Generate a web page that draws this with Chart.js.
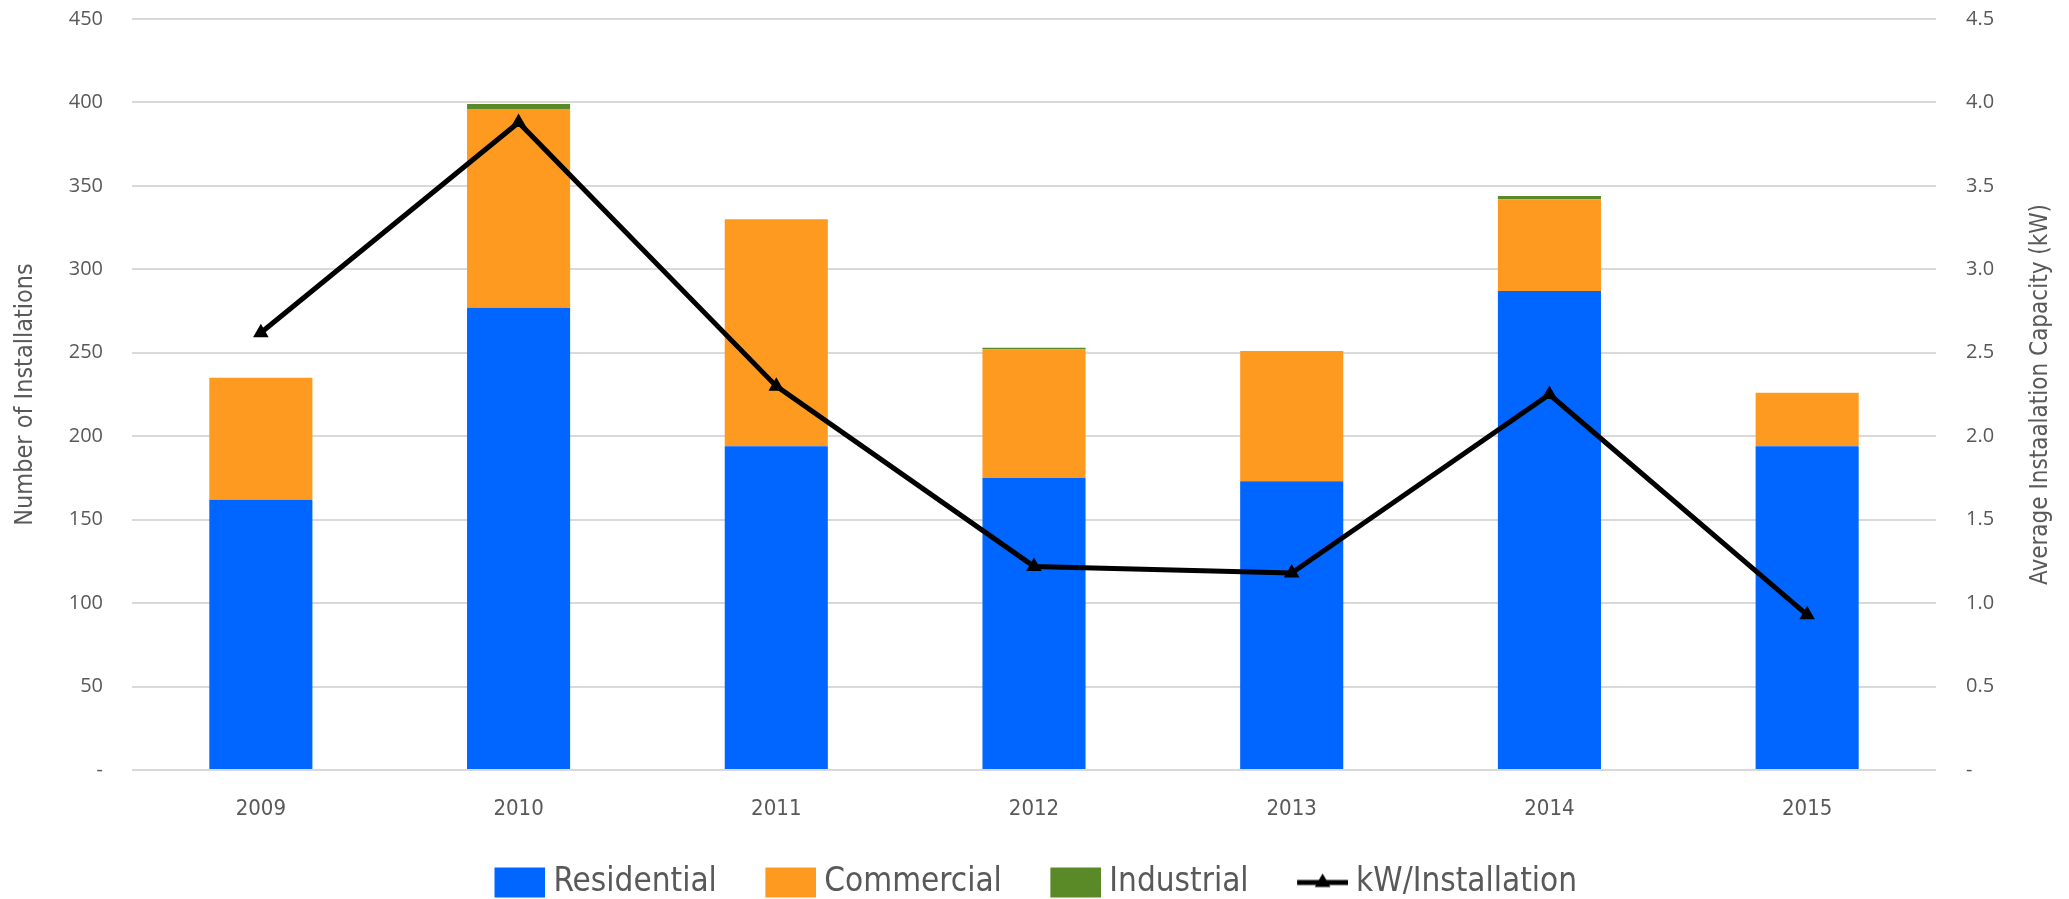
<!DOCTYPE html>
<html>
<head>
<meta charset="utf-8">
<script src="https://cdn.jsdelivr.net/npm/chart.js@4"></script>
<style>
  html, body { margin: 0; padding: 0; background: #ffffff; }
  canvas { display: block; }
</style>
</head>
<body>
<canvas id="chart" width="2069" height="899"></canvas>
<script>
// values
const years = ['2009', '2010', '2011', '2012', '2013', '2014', '2015'];
const residential = [162, 277, 194, 175, 173, 287, 194];
const commercial = [73, 119, 136, 77, 78, 55, 32];
const industrial = [0, 3, 0, 1, 0, 2, 0];
const kwPerInstall = [2.62, 3.88, 2.30, 1.22, 1.18, 2.25, 0.93];

const leftTitle = 'Number of Installations';
const rightTitle = 'Average Instaalation Capacity (kW)';

const textColor = '#595959';
const narrow = '"DejaVu Sans Condensed", "Liberation Sans Narrow", sans-serif';

// legend keys: box/line drawn right-aligned inside a wider image
function legendKey(color, isLine) {
    const c = document.createElement('canvas');
    c.width = 98;
    c.height = 40;
    const g = c.getContext('2d');
    if (isLine) {
        g.strokeStyle = '#000';
        g.lineWidth = 5;
        g.beginPath();
        g.moveTo(47, 20);
        g.lineTo(98, 20);
        g.stroke();
        const r = 9, cx = 72.5, cy = 20;
        g.fillStyle = '#000';
        g.beginPath();
        g.moveTo(cx, cy - r);
        g.lineTo(cx + r * 0.866, cy + r / 2);
        g.lineTo(cx - r * 0.866, cy + r / 2);
        g.closePath();
        g.fill();
    } else {
        g.fillStyle = color;
        g.fillRect(47, 5, 51, 30);
    }
    return c;
}

const rightTitlePlugin = {
    id: 'rightTitle',
    afterDraw(chart) {
        const ctx = chart.ctx;
        const area = chart.chartArea;
        ctx.save();
        ctx.translate(2041, (area.top + area.bottom) / 2);
        ctx.rotate(-Math.PI / 2);
        ctx.font = '24px ' + narrow;
        ctx.fillStyle = textColor;
        ctx.textAlign = 'center';
        ctx.textBaseline = 'middle';
        ctx.fillText(rightTitle, 0, 0);
        ctx.restore();
    }
};

// small shift of the legend so it sits where the reference has it
const legendNudge = {
    id: 'legendNudge',
    afterLayout(chart) {
        chart.legend.top += 10;
        chart.legend.bottom += 10;
        chart.legend.left -= 18;
        chart.legend.right -= 18;
    }
};

function noVertPadding(scale) {
    scale.paddingTop = 0;
    scale.paddingBottom = 0;
}

const ctx = document.getElementById('chart');

const chart = new Chart(ctx, {
    data: {
        labels: years,
        datasets: [
            {
                type: 'bar',
                label: 'Residential',
                data: residential,
                backgroundColor: '#0066ff',
                yAxisID: 'y',
                order: 1
            },
            {
                type: 'bar',
                label: 'Commercial',
                data: commercial,
                backgroundColor: '#ff9a21',
                yAxisID: 'y',
                order: 1
            },
            {
                type: 'bar',
                label: 'Industrial',
                data: industrial,
                backgroundColor: '#5a8a28',
                yAxisID: 'y',
                order: 1
            },
            {
                type: 'line',
                label: 'kW/Installation',
                data: kwPerInstall,
                borderColor: '#000000',
                backgroundColor: '#000000',
                borderWidth: 5,
                tension: 0,
                pointStyle: 'triangle',
                pointRadius: 9,
                pointBackgroundColor: '#000000',
                pointBorderWidth: 0,
                yAxisID: 'y1',
                order: 0
            }
        ]
    },
    options: {
        responsive: false,
        animation: false,
        devicePixelRatio: 1,
        layout: {
            padding: { top: 19, left: 0, right: 0, bottom: 0 }
        },
        datasets: {
            bar: {
                barPercentage: 0.4,
                categoryPercentage: 1
            }
        },
        plugins: {
            tooltip: { enabled: false },
            legend: {
                position: 'bottom',
                labels: {
                    usePointStyle: true,
                    pointStyleWidth: 81,
                    padding: 10,
                    color: textColor,
                    font: { family: narrow, size: 33 },
                    generateLabels: (c) => c.data.datasets.map((ds, i) => ({
                        text: ds.label,
                        pointStyle: legendKey(ds.backgroundColor, ds.type === 'line'),
                        fontColor: textColor,
                        hidden: false,
                        datasetIndex: i
                    }))
                }
            }
        },
        scales: {
            x: {
                stacked: true,
                grid: { display: false, drawTicks: false },
                border: { display: false },
                ticks: {
                    color: textColor,
                    padding: 26,
                    font: { family: narrow, size: 22 }
                },
                afterFit: (scale) => { scale.height = 76; }
            },
            y: {
                stacked: true,
                position: 'left',
                min: 0,
                max: 450,
                grid: { color: '#d9d9d9', lineWidth: 2, drawTicks: false },
                border: { display: false },
                ticks: {
                    stepSize: 50,
                    padding: 29,
                    color: textColor,
                    font: { family: '"Open Sans", sans-serif', size: 20 },
                    callback: (v) => v === 0 ? '-' : v
                },
                title: {
                    display: true,
                    text: leftTitle,
                    color: textColor,
                    padding: { top: 10, bottom: 0 },
                    font: { family: narrow, size: 25, weight: 'normal' }
                },
                afterFit: (scale) => { scale.width = 132; noVertPadding(scale); }
            },
            y1: {
                position: 'right',
                min: 0,
                max: 4.5,
                grid: { display: false, drawTicks: false },
                border: { display: false },
                ticks: {
                    stepSize: 0.5,
                    padding: 30,
                    color: textColor,
                    font: { family: '"Open Sans", sans-serif', size: 20 },
                    callback: (v) => v === 0 ? '-' : v.toFixed(1)
                },
                afterFit: (scale) => { scale.width = 133; noVertPadding(scale); }
            }
        }
    },
    plugins: [rightTitlePlugin, legendNudge]
});
</script>
</body>
</html>
